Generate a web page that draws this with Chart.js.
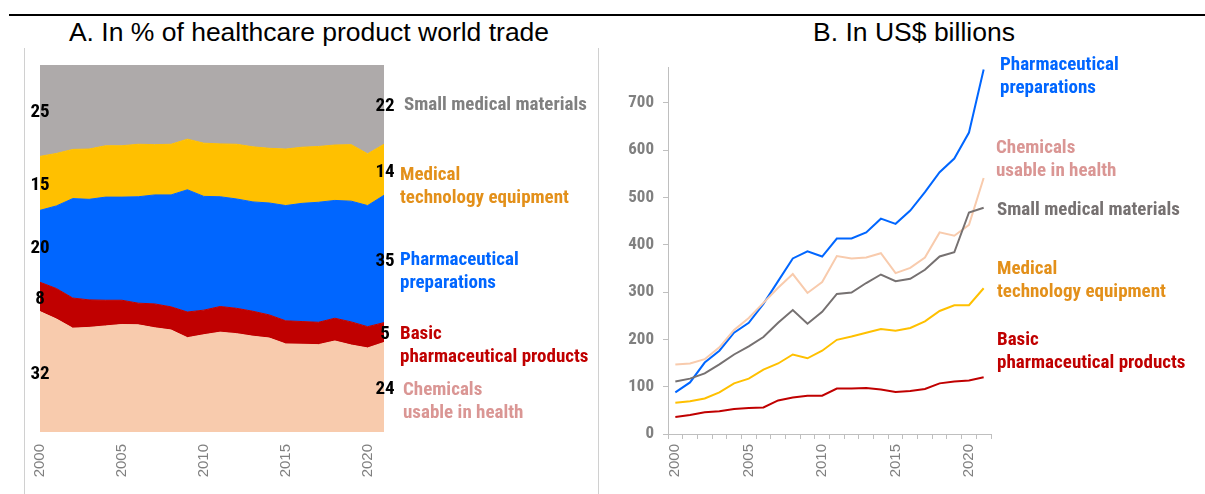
<!DOCTYPE html>
<html>
<head>
<meta charset="utf-8">
<script src="https://cdn.jsdelivr.net/npm/chart.js@4"></script>
<style>
  body { margin: 0; background: #fff; width: 1205px; height: 494px; position: relative; overflow: hidden; font-family: "Liberation Sans", Arial, sans-serif; }
  .topline { position: absolute; left: 9px; top: 14px; width: 1196px; height: 2px; background: #000; }
  .vline { position: absolute; top: 48px; width: 1px; height: 446px; background: #d0d0d0; }
  .title { position: absolute; top: 17px; font-size: 26.5px; color: #000; white-space: nowrap; transform: translateX(-50%); }
  .lbl { position: absolute; font-family: "Roboto Condensed", "Liberation Sans Narrow", "Liberation Sans", sans-serif; font-weight: bold; font-size: 19px; line-height: 23px; white-space: nowrap; }
  #boxA { position: absolute; left: 0; top: 48px; width: 598px; height: 446px; }
  #boxB { position: absolute; left: 598px; top: 48px; width: 607px; height: 446px; }
</style>
</head>
<body>
<div class="topline"></div>
<div class="vline" style="left:24px"></div>
<div class="vline" style="left:598px"></div>
<div class="title" style="left:309px">A. In % of healthcare product world trade</div>
<div class="title" style="left:914px">B. In US$ billions</div>

<div id="boxA"><canvas id="chartA"></canvas></div>
<div id="boxB"><canvas id="chartB"></canvas></div>

<div class="lbl" style="left:404px;top:92px;color:#808080">Small medical materials</div>
<div class="lbl" style="left:400px;top:162px;color:#E3901A">Medical<br>technology equipment</div>
<div class="lbl" style="left:400px;top:247px;color:#0066FF">Pharmaceutical<br>preparations</div>
<div class="lbl" style="left:400px;top:321px;color:#C00000">Basic<br>pharmaceutical products</div>
<div class="lbl" style="left:403px;top:377px;color:#DA9694">Chemicals<br>usable in health</div>

<div class="lbl" style="left:1000px;top:52px;color:#0066FF">Pharmaceutical<br>preparations</div>
<div class="lbl" style="left:996px;top:135px;color:#DA9694">Chemicals<br>usable in health</div>
<div class="lbl" style="left:997px;top:197px;color:#767171">Small medical materials</div>
<div class="lbl" style="left:997px;top:256px;color:#E3901A">Medical<br>technology equipment</div>
<div class="lbl" style="left:997px;top:327px;color:#C00000">Basic<br>pharmaceutical products</div>

<script>
const years = ['2000','2001','2002','2003','2004','2005','2006','2007','2008','2009','2010',
  '2011','2012','2013','2014','2015','2016','2017','2018','2019','2020','2021'];

// panel A: shares in % of healthcare product world trade
const shareChemicals = [32.8,30.8,28.3,28.5,28.9,29.3,29.2,28.4,27.8,25.7,26.5,27.2,26.8,26.1,25.6,24.0,23.9,23.8,24.8,23.7,22.9,24.4];
const shareBasic     = [8.0,8.3,8.2,7.5,7.0,6.6,5.9,6.5,6.3,7.0,6.7,7.0,6.9,6.8,6.3,6.3,6.2,6.1,6.2,6.3,5.8,5.4];
const sharePharma    = [19.6,22.5,27.1,27.4,28.1,28.1,29.0,29.7,30.5,33.3,31.0,29.9,29.8,29.8,30.5,31.4,32.2,32.7,32.1,32.9,33.0,34.7];
const shareMedtech   = [14.7,14.3,13.4,13.7,14.0,14.0,14.3,13.7,13.8,13.8,14.5,14.4,14.9,15.0,14.9,15.4,15.3,15.2,15.1,15.4,14.1,13.9];
const shareSmall     = [24.9,24.1,23.0,22.9,22.0,22.0,21.6,21.7,21.6,20.2,21.3,21.5,21.6,22.3,22.7,22.9,22.4,22.2,21.8,21.7,24.2,21.6];
const startLabels = ['32','8','20','15','25'];
const endLabels   = ['24','5','35','14','22'];

// panel B: US$ billions
const usdPharma    = [88,109,151,176,214,235,275,323,371,386,375,413,413,426,455,444,472,511,553,582,637,770];
const usdChemicals = [147,149,158,183,220,245,277,309,338,298,321,376,371,373,382,340,351,373,426,419,442,541];
const usdSmall     = [111,117,128,147,168,185,205,235,262,233,258,296,299,319,337,323,328,347,375,384,468,478];
const usdMedtech   = [66,69,75,88,107,117,136,149,168,160,176,199,206,214,222,218,224,238,260,272,272,308];
const usdBasic     = [36,40,46,48,53,55,56,71,77,81,81,96,96,97,94,89,91,95,107,111,113,120];

const cChem = '#F8CBAD', cBasic = '#C00000', cPharma = '#0066FF', cMed = '#FFC000', cSmall = '#AEAAAA';
const narrow = '"Roboto Condensed", "Liberation Sans Narrow", "Liberation Sans", sans-serif';
const numFont = 'bold 19px ' + narrow;

const yearTick = function(val, i) {
  const y = this.getLabelForValue(val);
  return (+y % 5 === 0) ? y : '';
};

const endValues = {
  id: 'endValues',
  afterDatasetsDraw(chart) {
    const ctx = chart.ctx;
    const bottom = chart.scales.y.getPixelForValue(0);
    ctx.save();
    ctx.font = numFont;
    ctx.fillStyle = '#000';
    ctx.textAlign = 'center';
    ctx.textBaseline = 'middle';
    chart.data.datasets.forEach((ds, i) => {
      const meta = chart.getDatasetMeta(i);
      const prev = i > 0 ? chart.getDatasetMeta(i - 1) : null;
      [0, meta.data.length - 1].forEach((j, k) => {
        const top = meta.data[j].y;
        const low = prev ? prev.data[j].y : bottom;
        const txt = k === 0 ? startLabels[i] : endLabels[i];
        ctx.fillText(txt, meta.data[j].x + (k === 0 ? 0 : 1), (top + low) / 2 + 2);
      });
    });
    ctx.restore();
  }
};

function area(data, color, fill) {
  return { data: data, backgroundColor: color, borderColor: color, borderWidth: 1,
    fill: fill, pointRadius: 0, tension: 0 };
}

new Chart(document.getElementById('chartA'), {
  type: 'line',
  data: {
    labels: years,
    datasets: [
      area(shareChemicals, cChem, 'origin'),
      area(shareBasic, cBasic, '-1'),
      area(sharePharma, cPharma, '-1'),
      area(shareMedtech, cMed, '-1'),
      area(shareSmall, cSmall, '-1')
    ]
  },
  options: {
    responsive: true, maintainAspectRatio: false, animation: false,
    layout: { padding: { left: 40, right: 214, top: 17, bottom: 0 } },
    plugins: { legend: { display: false }, tooltip: { enabled: false } },
    scales: {
      x: {
        offset: false,
        grid: { display: false }, border: { display: false },
        ticks: { autoSkip: false, maxRotation: 90, minRotation: 90, color: '#808080',
          font: { family: 'Liberation Sans', size: 15 }, padding: 4, callback: yearTick },
        afterFit: s => { s.height = 62; }
      },
      y: { stacked: true, min: 0, max: 100, display: false }
    }
  },
  plugins: [endValues]
});

function line(data, color) {
  return { data: data, borderColor: color, backgroundColor: color, borderWidth: 2,
    fill: false, pointRadius: 0, tension: 0 };
}

new Chart(document.getElementById('chartB'), {
  type: 'line',
  data: {
    labels: years,
    datasets: [
      line(usdBasic, cBasic),
      line(usdMedtech, cMed),
      line(usdSmall, '#767171'),
      line(usdChemicals, cChem),
      line(usdPharma, cPharma)
    ]
  },
  options: {
    responsive: true, maintainAspectRatio: false, animation: false,
    layout: { padding: { left: 0, right: 214, top: 18, bottom: 0 } },
    plugins: { legend: { display: false }, tooltip: { enabled: false } },
    scales: {
      x: {
        offset: true,
        grid: { offset: true, drawOnChartArea: false, drawTicks: true, tickLength: 5, color: '#BFBFBF' },
        border: { display: true, color: '#BFBFBF', width: 1 },
        ticks: { autoSkip: false, maxRotation: 90, minRotation: 90, color: '#808080',
          font: { family: 'Liberation Sans', size: 15 }, padding: 5, callback: yearTick },
        afterFit: s => { s.height = 60; }
      },
      y: {
        min: 0, max: 775,
        grid: { drawOnChartArea: false, drawTicks: true, tickLength: 5, color: '#BFBFBF' },
        border: { display: true, color: '#BFBFBF', width: 1 },
        ticks: { stepSize: 100, includeBounds: false, color: '#808080', padding: 9,
          font: { family: narrow, size: 17, weight: 'bold' } },
        afterFit: s => { s.width = 70; }
      }
    }
  }
});
</script>
</body>
</html>
